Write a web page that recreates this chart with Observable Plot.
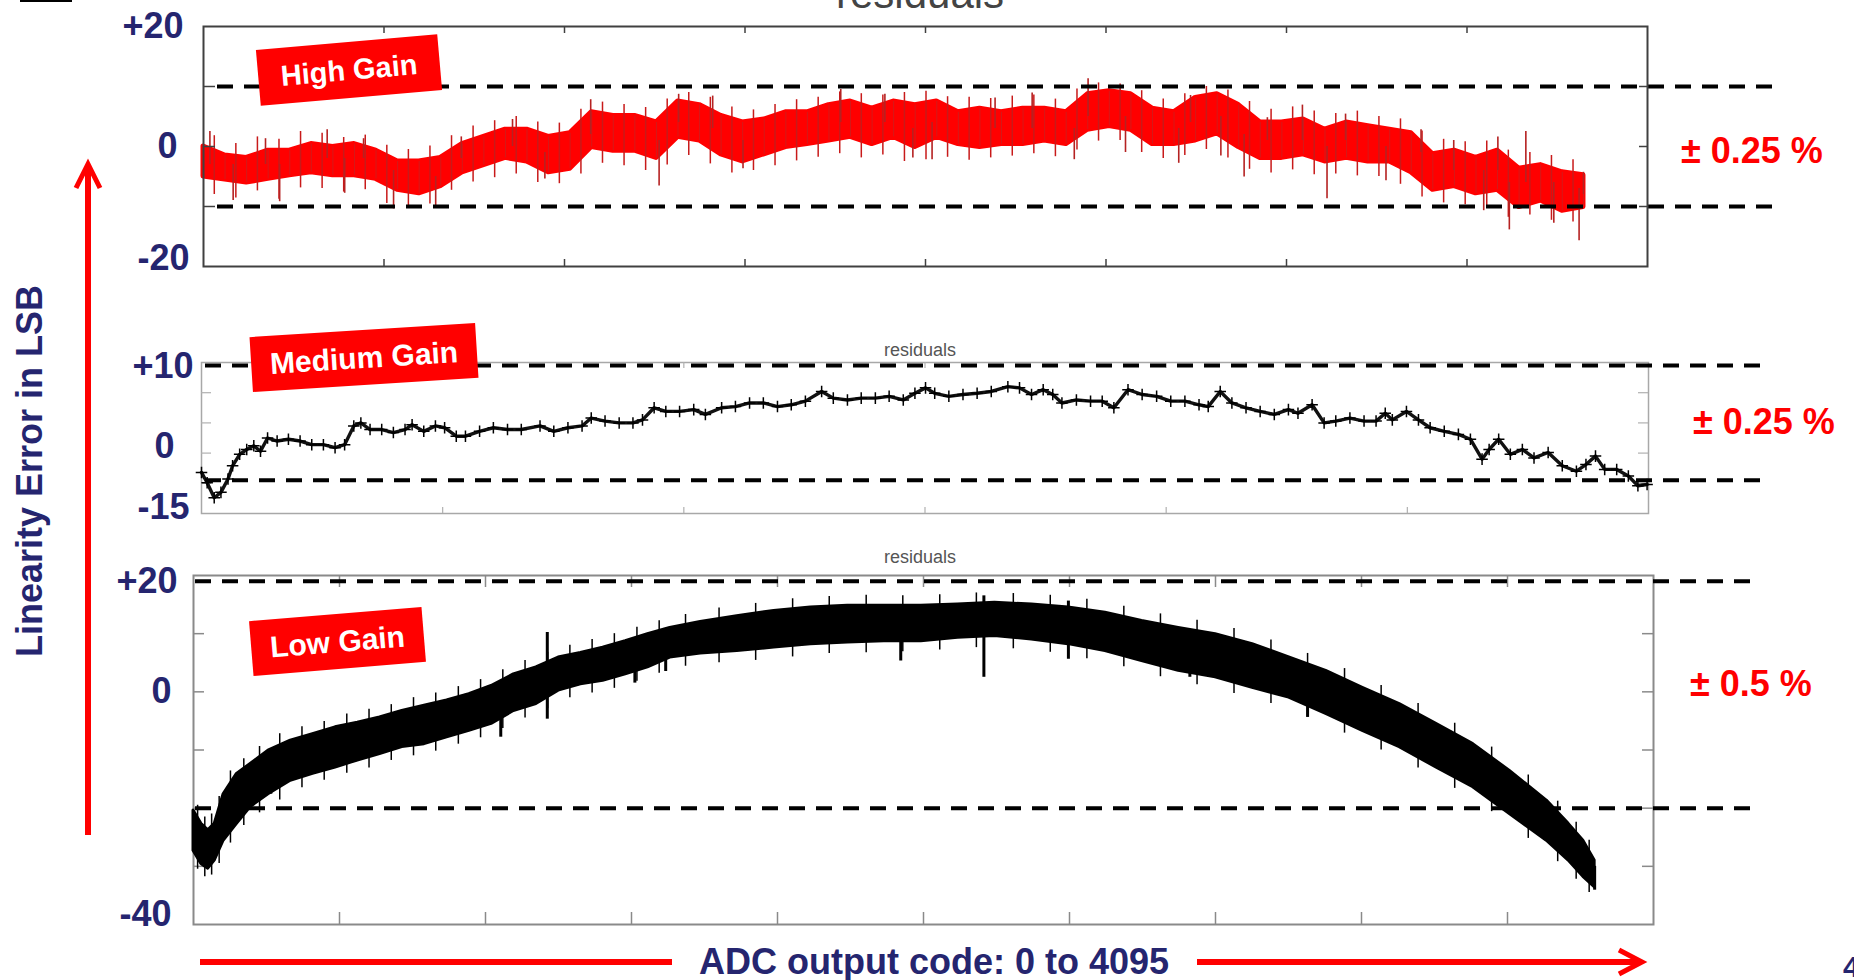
<!DOCTYPE html>
<html>
<head>
<meta charset="utf-8">
<script src="https://cdn.jsdelivr.net/npm/d3@7"></script>
<script src="https://cdn.jsdelivr.net/npm/@observablehq/plot@0.6"></script>
<style>
  html, body { margin:0; padding:0; background:#fff; }
  body { width:1854px; height:980px; overflow:hidden; position:relative; font-family:"Liberation Sans", Arial, sans-serif; }
  .abs { position:absolute; white-space:nowrap; }
  .tag { position:absolute; background:#ff0000; color:#fff; font-weight:bold; display:flex; align-items:center; justify-content:center; transform-origin:center; }
  .pct { position:absolute; color:#ff0000; font-weight:bold; font-size:36px; white-space:nowrap; line-height:36px; }
  .navy { color:#25256f; font-weight:bold; }
  .resid { position:absolute; color:#555; font-size:18px; line-height:18px; }
</style>
</head>
<body>
<script>
// ---------------- DATA ----------------
// High gain: ADC code positions (every 64 codes) and solid red-band envelope (LSB)
const highCodes = [...d3.range(0, 4096, 64), 4095];
const highTop = [0.0,-1.5,-1.9,-0.7,-0.7,0.4,-0.1,0.4,-0.7,-2.5,-2.5,-1.9,0.4,1.6,2.8,2.8,1.6,2.2,5.7,5.1,5.1,4.0,7.5,6.9,5.1,4.0,4.5,5.7,5.7,6.9,7.5,6.3,7.5,6.9,
                 7.5,5.7,6.3,5.7,6.3,6.3,5.7,8.7,9.2,8.7,6.3,5.7,8.1,8.7,6.9,4.0,4.0,4.5,2.8,4.0,3.4,2.8,2.2,-1.3,-0.7,-1.9,-0.7,-3.7,-3.1,-4.3,-4.8];
const highBot = [-5.0,-5.5,-6.0,-5.4,-4.8,-4.3,-4.8,-4.8,-5.4,-7.2,-7.8,-6.6,-4.3,-3.1,-1.9,-2.5,-4.3,-3.7,-0.1,-0.7,-0.7,-1.9,1.6,1.0,-1.3,-2.5,-1.3,-0.1,0.4,1.0,1.6,0.4,1.6,-0.1,
                 1.6,0.4,-0.1,0.4,0.4,1.0,0.4,2.8,3.4,2.8,0.4,0.4,1.0,2.2,-0.1,-1.9,-1.9,-1.3,-2.5,-1.9,-2.5,-2.5,-4.3,-7.2,-6.6,-7.8,-7.2,-10.1,-9.0,-10.7,-10.1];
// High gain: noise extremes between band samples (codes 32, 96, ... 4064)
const highWhiskCodes = d3.range(32, 4096, 64);
const highWhiskTop = [1.8,0.5,1.6,1.2,2.5,2.2,1.5,1.9,0.2,-0.5,0.1,1.8,3.4,4.3,5.0,4.1,3.9,6.2,7.4,7.0,6.5,7.9,9.0,8.2,6.6,6.1,7.0,7.8,8.2,9.1,8.8,8.6,9.0,9.2,
                      8.3,8.2,8.0,8.4,8.6,7.9,9.6,10.6,10.4,9.3,7.9,8.8,10.0,9.4,7.5,6.2,6.6,5.9,5.5,5.9,5.0,4.6,2.6,1.2,0.8,0.9,-0.6,-1.0,-1.5,-2.2];
const highWhiskBot = [-8.0,-8.6,-7.4,-8.8,-6.9,-7.0,-7.6,-7.2,-9.5,-9.9,-9.6,-7.3,-5.9,-5.2,-4.6,-6.0,-6.2,-4.6,-2.8,-3.2,-4.0,-3.1,-1.5,-2.9,-4.4,-4.0,-3.2,-2.4,-1.8,-1.2,-1.9,-1.4,-2.5,-2.2,
                      -1.8,-2.3,-1.9,-1.6,-1.2,-1.7,-0.6,0.9,1.0,-1.0,-2.0,-1.5,-0.5,-1.9,-3.8,-4.4,-3.9,-4.7,-4.6,-4.9,-5.0,-6.3,-8.4,-9.4,-9.7,-9.9,-11.8,-11.4,-12.3,-12.6];
// High gain: isolated spikes (code, low end, high end)
const highSpikeX  = [19,88,184,226,367,419,475,564,689,765,917,1013,1149,1352,1410,1511,1601,1891,2022,2105,2162,2349,2459,2584,2625,2736,2894,2929,3019,3088,3157,3261,3334,3389,3509,3613,3710,3799,3841,3875,3924,4007,4082,4095];
const highSpikeLo = [-3,-9.0,-3,-9.2,-2,-7.8,-2,-10.4,-10.1,-2,0,-5.4,2,-6.6,4,3,-3.7,4,4,-1.9,-2.2,3,3,-2.2,5,-1.0,-2.8,4,-1.6,-5.1,1,1,-8.7,1,-5.7,-1,-4,-10.7,-4,-13.9,-6,-12.8,-15.7,-8];
const highSpikeHi = [2.5,-3,1.3,-3,2.8,-2,1.3,-4,-5,1.6,4.5,-1,7.8,1,8.7,8.4,1,9.5,8.7,3,4,8.1,8.9,3,11.3,5,3,8.5,5,2,4.8,6.9,0,5.4,0,2.8,1.0,-4,1.6,-6,2.5,-6,-7,-4.3];
const highLimits = [10, -10];
const highYTicks = [20, 0, -20];
const highYLabels = ["+20", "0", "-20"];

// Medium gain: trace (code, LSB)
const medCodes = [0,16,36,55,75,88,108,128,148,167,187,214,246,279,312,345,378,405,431,451,477,510,543,576,596,629,662,688,721,747,787,826,866,905,958,997,1037,1077,1103,1142,1182,1221,1248,1281,1314,1353,1393,1426,1472,1511,1551,1590,1630,1669,1709,1755,1788,1828,1867,1907,1946,1986,2019,2049,
                  2075,2115,2155,2195,2235,2282,2315,2349,2382,2409,2435,2476,2516,2549,2582,2622,2662,2703,2743,2783,2823,2849,2883,2916,2956,2996,3036,3076,3103,3143,3177,3210,3250,3290,3324,3350,3370,3410,3444,3477,3517,3557,3591,3624,3644,3671,3704,3738,3771,3811,3851,3891,3918,3945,3971,4005,4038,4065,4091];
const medVals = [-8.2,-9.9,-12.4,-11.5,-9.3,-7.1,-5.2,-4.4,-3.8,-4.7,-2.5,-3.0,-2.7,-3.0,-3.6,-3.6,-4.1,-3.6,-0.5,0.0,-1.1,-1.1,-1.6,-1.1,-0.3,-1.4,-0.5,-0.8,-2.2,-2.2,-1.4,-0.8,-1.1,-1.1,-0.5,-1.4,-0.8,-0.5,0.8,0.3,0.0,0.0,0.5,2.5,1.9,1.9,2.2,1.4,2.5,2.7,3.3,3.3,2.7,3.0,3.6,5.2,4.1,3.8,4.1,4.1,4.4,3.8,4.9,5.8,
                 4.9,4.4,4.7,4.9,5.2,6.0,5.8,4.7,5.5,4.7,3.3,3.8,3.6,3.6,2.5,5.5,4.7,4.4,3.6,3.6,3.0,2.7,5.2,3.3,2.5,1.9,1.4,2.2,1.6,3.0,0.0,0.3,0.8,0.3,0.3,1.6,0.5,1.9,0.5,-0.8,-1.4,-1.9,-2.7,-6.0,-4.4,-2.7,-5.2,-4.4,-5.8,-4.9,-7.1,-8.0,-6.9,-5.5,-7.7,-7.7,-8.8,-10.4,-10.2];
const medLimits = [9.5, -9.5];
const medYTicks = [10, 0, -15];
const medYLabels = ["+10", "0", "-15"];

// Low gain: black band envelope (code, top, bottom in LSB)
const lowCodes = [0,23,43,62,88,127,167,219,284,349,415,480,545,610,675,741,806,871,936,1002,1067,1132,1197,1263,1328,1393,1482,1589,1697,1804,1912,2019,2127,2234,2342,2450,2557,2665,2772,2879,2987,3095,3202,3310,3417,3525,3632,3740,3847,3955,4019,4062,4095];
const lowTop = [-20.4,-22.7,-23.8,-22.7,-17.6,-14.1,-12.4,-10.1,-8.4,-7.3,-6.1,-5.3,-4.4,-3.3,-2.4,-1.5,-0.4,1.0,3.0,4.2,5.9,6.7,7.6,8.7,9.9,11.0,12.0,13.0,13.9,14.5,14.8,14.8,14.8,15.0,15.3,15.0,14.5,13.6,12.2,11.0,9.9,8.2,5.9,3.6,0.7,-2.1,-5.5,-9.0,-13.6,-18.7,-22.7,-25.6,-29.0];
const lowBot = [-27.3,-29.6,-30.4,-29.0,-25.6,-22.7,-19.8,-17.6,-15.3,-14.1,-13.0,-11.8,-10.7,-9.5,-9.0,-7.8,-6.7,-5.5,-3.3,-2.1,0.2,1.3,1.9,3.0,4.2,5.9,6.6,7.0,7.6,8.2,8.5,8.7,8.7,9.3,9.6,9.0,8.2,7.0,5.3,3.6,2.5,0.7,-1.0,-3.8,-6.7,-9.5,-13.0,-16.4,-21.0,-25.6,-29.0,-31.8,-33.6];
// Low gain: noise extremes between band samples
const lowWhiskCodes = [12,33,53,75,108,147,193,252,317,382,448,513,578,643,708,774,839,904,969,1035,1100,1165,1230,1296,1361,1438,1536,1643,1751,1858,1966,2073,2181,2288,2396,2504,2611,2719,2826,2933,3041,3149,3256,3364,3471,3579,3686,3794,3901,3987,4041,4079];
const lowWhiskTop = [-19.5,-21.5,-21.0,-18.0,-13.6,-11.5,-9.4,-7.2,-6.0,-5.1,-3.8,-3.0,-2.2,-1.0,-0.2,0.9,2.1,3.8,5.4,6.8,8.0,9.0,10.0,11.1,12.2,13.3,14.4,15.2,16.0,16.4,16.6,16.5,16.7,17.0,16.9,16.6,15.9,14.7,13.4,12.3,10.9,8.9,6.6,4.0,1.1,-2.0,-5.4,-9.5,-14.3,-18.8,-22.4,-25.5];
const lowWhiskBot = [-30.5,-31.8,-31.5,-29.5,-26.0,-23.0,-20.8,-18.6,-16.5,-15.2,-14.0,-13.1,-11.8,-11.0,-10.2,-9.0,-7.9,-6.3,-4.5,-2.9,-1.0,-0.2,0.6,1.8,3.2,4.4,5.0,5.4,6.0,6.6,6.7,6.9,7.2,7.6,7.4,6.8,5.7,4.3,2.6,1.2,-0.3,-2.0,-4.3,-7.1,-10.0,-13.1,-16.6,-20.6,-25.2,-29.2,-32.2,-34.5];
const lowSpikeX  = [226,898,1034,1290,1380,2067,2310,2557,2912,3256,4095];
const lowSpikeLo = [-17.6,-7.8,-4.7,1.5,3.5,5.3,2.5,5.6,2.5,-4.4,-34.1];
const lowSpikeHi = [-12,-3,10.2,6,8,11,16.5,15.6,8,2,-30];
const lowLimits = [19, -20];
const lowYTicks = [20, 0, -40];
const lowYLabels = ["+20", "0", "-40"];

// ---------------- LAYOUT / STYLE ----------------
const W = 1854;
const navy = "#25256f";
const font = "'Liberation Sans', Arial, sans-serif";
const highXMax = 4285, medXMax = 4095, lowXMax = 4267;

function place(svg, top) {
  svg.style.position = "absolute";
  svg.style.left = "0px";
  svg.style.top = top + "px";
  document.body.appendChild(svg);
}
function labelAxes(ticks, labels, pads, dys) {
  return ticks.map((t, i) => Plot.axisY({
    ticks: [t], tickFormat: () => labels[i], tickSize: 0, tickPadding: pads[i], dy: dys[i],
    fontSize: 36, fontWeight: "bold", fill: navy, label: null
  }));
}
function frameTicks(xt, yt, fw, fh, color, lx, ly, ry, w) {
  return [
    Plot.ruleX(xt, {x: d => d, insetBottom: fh - lx, stroke: color, strokeWidth: w}),
    Plot.ruleX(xt, {x: d => d, insetTop: fh - lx, stroke: color, strokeWidth: w}),
    Plot.ruleY(yt, {y: d => d, insetRight: fw - ly, stroke: color, strokeWidth: w}),
    Plot.ruleY(yt, {y: d => d, insetLeft: fw - ry, stroke: color, strokeWidth: w})
  ];
}
const svgStyle = {background: "transparent", fontFamily: font, overflow: "visible"};

// ---------------- HIGH GAIN ----------------
{
  const rows = highCodes.map((x, i) => ({x, hi: highTop[i], lo: highBot[i]}));
  const whisk = highWhiskCodes.map((x, i) => ({x, hi: highWhiskTop[i], lo: highWhiskBot[i]}));
  const spikes = highSpikeX.map((x, i) => ({x, lo: highSpikeLo[i], hi: highSpikeHi[i]}));
  const mL = 203, mR = W - 1647, mT = 26, mB = 20, H = 286;
  const fw = W - mL - mR, fh = H - mT - mB;
  const svg = Plot.plot({
    width: W, height: H, marginLeft: mL, marginRight: mR, marginTop: mT, marginBottom: mB,
    x: {domain: [0, highXMax], axis: null}, y: {domain: [-20, 20], axis: null},
    style: svgStyle,
    marks: [
      Plot.areaY(rows, {x: "x", y1: "lo", y2: "hi", fill: "#ff0000", stroke: "#ff0000", strokeWidth: 5, strokeLinejoin: "round", curve: "linear"}),
      Plot.ruleX(whisk, {x: "x", y1: "lo", y2: "hi", stroke: "#c81a1a", strokeWidth: 1.5}),
      Plot.ruleX(rows, {x: "x", y1: "lo", y2: "hi", stroke: "#d41a1a", strokeWidth: 1}),
      Plot.ruleX(spikes, {x: "x", y1: "lo", y2: "hi", stroke: "#b52222", strokeWidth: 1.6}),
      Plot.ruleY(highLimits, {y: d => d, stroke: "#000", strokeWidth: 4, strokeDasharray: "16,11", insetLeft: 14, insetRight: -127}),
      Plot.frame({stroke: "#404040", strokeWidth: 2}),
      ...frameTicks(d3.range(1, 8).map(i => i * highXMax / 8), [10, 0, -10], fw, fh, "#404040", 7, 12, 8, 1.5),
      ...labelAxes(highYTicks, highYLabels, [20, 26, 14], [0, 0, -8])
    ]
  });
  place(svg, 0);
}

// ---------------- MEDIUM GAIN ----------------
{
  const rows = medCodes.map((x, i) => ({x, y: medVals[i]}));
  const mL = 201, mR = W - 1648, mT = 62, mB = 20, H = 233;
  const fw = W - mL - mR, fh = H - mT - mB;
  const svg = Plot.plot({
    width: W, height: H, marginLeft: mL, marginRight: mR, marginTop: mT, marginBottom: mB,
    x: {domain: [0, medXMax], axis: null}, y: {domain: [-15, 10], axis: null},
    style: svgStyle,
    marks: [
      Plot.frame({stroke: "#a8a8a8", strokeWidth: 1.5}),
      ...frameTicks(d3.range(1, 6).map(i => i * medXMax / 6), [5, 0, -5, -10], fw, fh, "#b0b0b0", 6, 10, 10, 1.2),
      Plot.line(rows, {x: "x", y: "y", stroke: "#111", strokeWidth: 3.4, strokeLinejoin: "round"}),
      Plot.dot(rows, {x: "x", y: "y", symbol: "plus", r: 3.8, stroke: "#000", strokeWidth: 1.5}),
      Plot.ruleY(medLimits, {y: d => d, stroke: "#000", strokeWidth: 4, strokeDasharray: "16,11", insetLeft: 4, insetRight: -112}),
      ...labelAxes(medYTicks, medYLabels, [8, 27, 12], [4, 24, -6])
    ]
  });
  place(svg, 300);
}

// ---------------- LOW GAIN ----------------
{
  const rows = lowCodes.map((x, i) => ({x, hi: lowTop[i], lo: lowBot[i]}));
  const whisk = lowWhiskCodes.map((x, i) => ({x, hi: lowWhiskTop[i], lo: lowWhiskBot[i]}));
  const spikes = lowSpikeX.map((x, i) => ({x, lo: lowSpikeLo[i], hi: lowSpikeHi[i]}));
  const mL = 193, mR = W - 1653, mT = 30, mB = 20, H = 399;
  const fw = W - mL - mR, fh = H - mT - mB;
  const svg = Plot.plot({
    width: W, height: H, marginLeft: mL, marginRight: mR, marginTop: mT, marginBottom: mB,
    x: {domain: [0, lowXMax], axis: null}, y: {domain: [-40, 20], axis: null},
    style: svgStyle,
    marks: [
      Plot.frame({stroke: "#8a8a8a", strokeWidth: 2}),
      ...frameTicks(d3.range(1, 10).map(i => i * lowXMax / 10), [10, 0, -10, -20, -30], fw, fh, "#8a8a8a", 12, 11, 11, 1.5),
      Plot.areaY(rows, {x: "x", y1: "lo", y2: "hi", fill: "#000", stroke: "#000", strokeWidth: 3, strokeLinejoin: "round", curve: "linear"}),
      Plot.ruleX(whisk, {x: "x", y1: "lo", y2: "hi", stroke: "#000", strokeWidth: 1.5}),
      Plot.ruleX(spikes, {x: "x", y1: "lo", y2: "hi", stroke: "#000", strokeWidth: 3}),
      Plot.ruleY(lowLimits, {y: d => d, stroke: "#000", strokeWidth: 4, strokeDasharray: "16,11", insetLeft: 2, insetRight: -97}),
      ...labelAxes(lowYTicks, lowYLabels, [16, 22, 22], [6, 0, -10])
    ]
  });
  place(svg, 545);
}

// ---------------- ANNOTATIONS ----------------
function div(cls, text, css) {
  const d = document.createElement("div");
  d.className = cls; d.textContent = text;
  Object.assign(d.style, css);
  document.body.appendChild(d);
  return d;
}
div("tag", "High Gain",   {left: (349 - 91) + "px", top: (70 - 28) + "px", width: "182px", height: "56px", fontSize: "29px", transform: "rotate(-5deg)"});
div("tag", "Medium Gain", {left: (364 - 113) + "px", top: (357 - 27) + "px", width: "226px", height: "55px", fontSize: "30px", transform: "rotate(-3.6deg)"});
div("tag", "Low Gain",    {left: (337 - 86) + "px", top: (641 - 27) + "px", width: "173px", height: "55px", fontSize: "30px", transform: "rotate(-4.7deg)"});
div("pct", "± 0.25 %", {left: "1681px", top: "133px"});
div("pct", "± 0.25 %", {left: "1693px", top: "404px"});
div("pct", "± 0.5 %",  {left: "1690px", top: "666px"});
div("abs", "residuals", {left: "836px", top: "-27px", fontSize: "42px", lineHeight: "42px", color: "#444"});
div("resid", "residuals", {left: "884px", top: "341px"});
div("resid", "residuals", {left: "884px", top: "548px"});
div("abs navy", "Linearity Error in LSB", {left: "30px", top: "471px", fontSize: "36px", lineHeight: "36px", transform: "translate(-50%,-50%) rotate(-90deg)"});
div("abs navy", "ADC output code: 0 to 4095", {left: "934px", top: "962px", fontSize: "36px", lineHeight: "36px", transform: "translate(-50%,-50%)"});
div("abs navy", "4", {left: "1843px", top: "952px", fontSize: "30px", lineHeight: "30px"});
div("abs", "", {left: "20px", top: "0px", width: "52px", height: "2px", background: "#000"});

// arrows (decoration)
const ns = "http://www.w3.org/2000/svg";
const ov = document.createElementNS(ns, "svg");
ov.setAttribute("width", W); ov.setAttribute("height", 980);
ov.style.position = "absolute"; ov.style.left = "0"; ov.style.top = "0"; ov.style.pointerEvents = "none";
ov.innerHTML = `
  <line x1="88" y1="835" x2="88" y2="166" stroke="#ff0000" stroke-width="6"/>
  <polyline points="76,188 88,164 100,188" fill="none" stroke="#ff0000" stroke-width="5"/>
  <line x1="200" y1="962" x2="672" y2="962" stroke="#ff0000" stroke-width="6"/>
  <line x1="1197" y1="962" x2="1640" y2="962" stroke="#ff0000" stroke-width="6"/>
  <polyline points="1619,950 1642,962 1619,974" fill="none" stroke="#ff0000" stroke-width="5"/>`;
document.body.appendChild(ov);
</script>
</body>
</html>
